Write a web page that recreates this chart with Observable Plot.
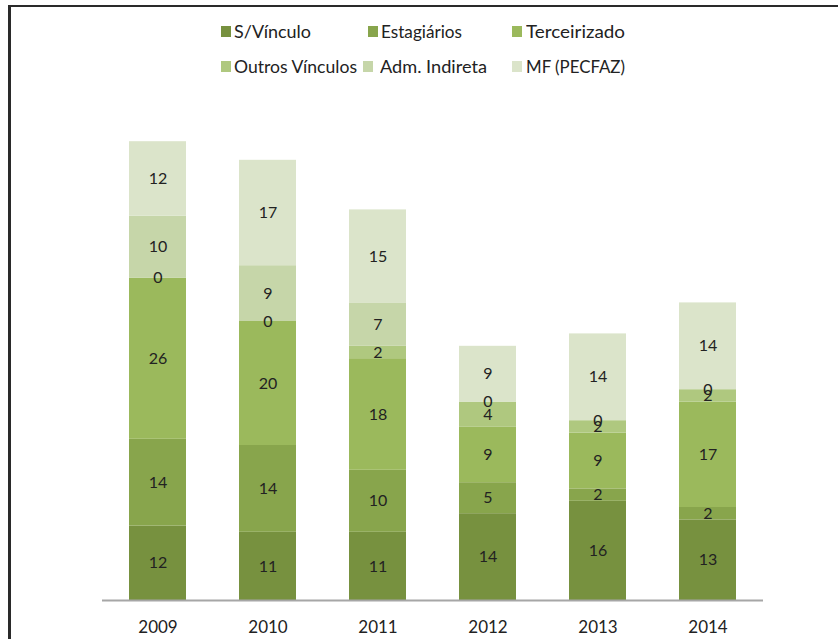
<!DOCTYPE html>
<html>
<head>
<meta charset="utf-8">
<script src="https://cdn.jsdelivr.net/npm/d3@7"></script>
<script src="https://cdn.jsdelivr.net/npm/@observablehq/plot@0.6"></script>
<style>
  html, body { margin: 0; padding: 0; background: #fff; }
  #wrap { position: relative; width: 838px; height: 639px; overflow: hidden; font-family: Lato, "Open Sans", sans-serif; }
  #frameTop { position: absolute; left: 8px; top: 5px; width: 830px; height: 2px; background: #2a2a2a; }
  #frameLeft { position: absolute; left: 8px; top: 5px; width: 3px; height: 640px; background: #2a2a2a; }
  #legend { position: relative; width: 838px; height: 100px; }
  .sw { position: absolute; width: 10px; height: 11px; }
  .lab { position: absolute; font-size: 18px; color: #222; line-height: 20px; white-space: nowrap; transform-origin: 0 50%; }
  #chart svg { display: block; }
</style>
</head>
<body>
<div id="wrap">
  <div id="legend"></div>
  <div id="chart"></div>
  <div id="frameTop"></div>
  <div id="frameLeft"></div>
</div>
<script>
const years = ["2009", "2010", "2011", "2012", "2013", "2014"];
const series = ["S/Vínculo", "Estagiários", "Terceirizado", "Outros Vínculos", "Adm. Indireta", "MF (PECFAZ)"];
const sVinculo      = [12, 11, 11, 14, 16, 13];
const estagiarios   = [14, 14, 10, 5, 2, 2];
const terceirizado  = [26, 20, 18, 9, 9, 17];
const outros        = [0, 0, 2, 4, 2, 2];
const admIndireta   = [10, 9, 7, 0, 0, 0];
const mfPecfaz      = [12, 17, 15, 9, 14, 14];

const colors = ["#77913f", "#88a54c", "#9bb95c", "#afc87f", "#c6d6a9", "#dbe4ca"];

const valuesBySeries = [sVinculo, estagiarios, terceirizado, outros, admIndireta, mfPecfaz];
const data = [];
series.forEach((s, i) => years.forEach((y, j) => data.push({year: y, series: s, value: valuesBySeries[i][j]})));

// Legend layout: [swatch x, text x, row center y, text width]
const legendLayout = [
  [221, 234, 31, 77], [368, 381, 31, 81], [512, 526, 31, 99],
  [221, 234, 66, 123], [363, 380, 66, 107], [512, 526, 66, 99]
];
const legend = document.getElementById("legend");
series.forEach((s, i) => {
  const [sx, tx, cy, w] = legendLayout[i];
  const sw = document.createElement("div");
  sw.className = "sw";
  sw.style.left = sx + "px";
  sw.style.top = (cy - 5) + "px";
  sw.style.background = colors[i];
  legend.appendChild(sw);
  const t = document.createElement("div");
  t.className = "lab";
  t.textContent = s;
  t.style.left = tx + "px";
  t.style.top = (cy - 10) + "px";
  legend.appendChild(t);
  const mw = t.getBoundingClientRect().width;
  t.style.transform = `scaleX(${w / mw})`;
});

const chart = Plot.plot({
  width: 838,
  height: 539,
  marginLeft: 102,
  marginRight: 75,
  marginTop: 4,
  marginBottom: 39,
  style: {fontFamily: "Lato, 'Open Sans', sans-serif", fontSize: "17px", color: "#222", background: "#fff"},
  x: {domain: years, paddingInner: 0.48, paddingOuter: 0.24, label: null, tickSize: 0, tickPadding: 20},
  y: {domain: [0, 80], axis: null},
  color: {domain: series, range: colors},
  marks: [
    Plot.barY(data, {x: "year", y: "value", z: "series", fill: "series", order: series}),
    Plot.ruleY([0], {stroke: "#a6a6a6", strokeWidth: 2}),
    Plot.text(data, Plot.stackY({x: "year", y: "value", z: "series", text: d => String(d.value), order: series, fill: "#222", fontSize: 16}))
  ]
});
document.getElementById("chart").appendChild(chart);
</script>
</body>
</html>
